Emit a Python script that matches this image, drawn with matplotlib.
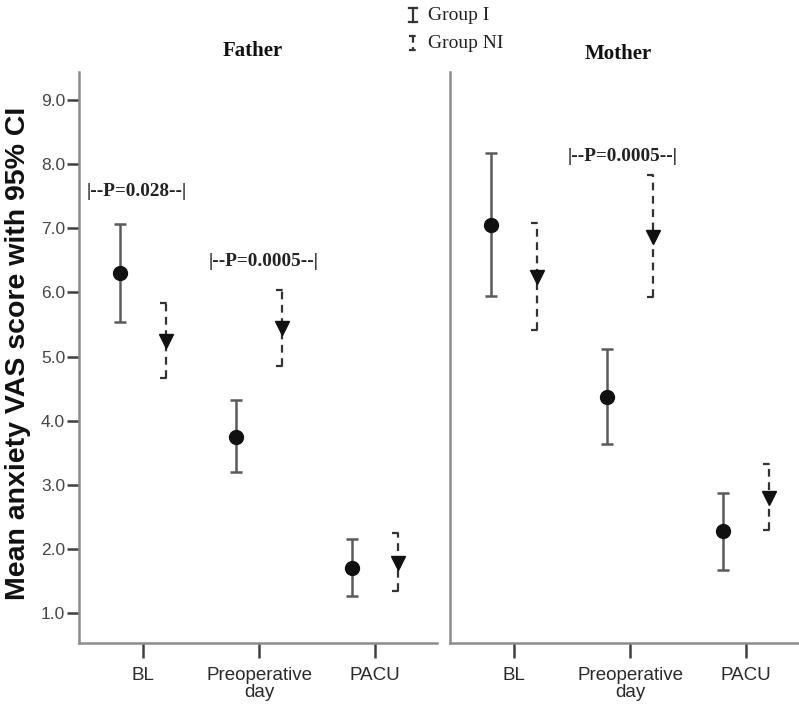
import matplotlib
matplotlib.use("Agg")
import matplotlib.pyplot as plt
from matplotlib.lines import Line2D

# ---------------- data ----------------
categories = ["BL", "Preoperative\nday", "PACU"]
panels = ["Father", "Mother"]
groups = ["Group I", "Group NI"]

father_I_mean = [6.30, 3.75, 1.70]
father_I_low = [5.54, 3.20, 1.27]
father_I_high = [7.07, 4.32, 2.15]
father_NI_mean = [5.24, 5.45, 1.78]
father_NI_low = [4.66, 4.86, 1.34]
father_NI_high = [5.84, 6.04, 2.24]

mother_I_mean = [7.05, 4.37, 2.27]
mother_I_low = [5.95, 3.63, 1.67]
mother_I_high = [8.18, 5.12, 2.87]
mother_NI_mean = [6.24, 6.87, 2.79]
mother_NI_low = [5.42, 5.93, 2.29]
mother_NI_high = [7.08, 7.83, 3.33]

father_p_labels = ["|--P=0.028--|", "|--P=0.0005--|"]
father_p_x = [-0.05, 1.04]
father_p_y = [7.57, 6.48]
mother_p_labels = ["|--P=0.0005--|"]
mother_p_x = [0.94]
mother_p_y = [8.12]

yticks = [1.0, 2.0, 3.0, 4.0, 5.0, 6.0, 7.0, 8.0, 9.0]
ylabel = "Mean anxiety VAS score with 95% CI"

# ---------------- figure ----------------
W, H = 799, 704
fig = plt.figure(figsize=(W / 100, H / 100), dpi=100)

def fx(px):
    return px / W

def fy(py):
    return 1 - py / H

SANS = "Liberation Sans"
SERIF = "Liberation Serif"
AXC = "#8c8c8c"

ax_left_px = [79, 450]
ax_w_px = 358
ax_top_px, ax_bot_px = 72, 643

datasets = [
    (father_I_mean, father_I_low, father_I_high, father_NI_mean, father_NI_low, father_NI_high,
     father_p_labels, father_p_x, father_p_y),
    (mother_I_mean, mother_I_low, mother_I_high, mother_NI_mean, mother_NI_low, mother_NI_high,
     mother_p_labels, mother_p_x, mother_p_y),
]

off = 0.2
capw = 0.05
for k, (name, d) in enumerate(zip(panels, datasets)):
    im, il, ih, nm, nl, nh, pl, px_, py_ = d
    ax = fig.add_axes([fx(ax_left_px[k]), fy(ax_bot_px), ax_w_px / W, (ax_bot_px - ax_top_px) / H])
    ax.set_xlim(-0.552, 2.534)
    ax.set_ylim(0.53, 9.44)
    for s in ["top", "right"]:
        ax.spines[s].set_visible(False)
    for s in ["left", "bottom"]:
        ax.spines[s].set_color(AXC)
        ax.spines[s].set_linewidth(1.8)
    xs = list(range(len(categories)))
    ax.set_xticks(xs)
    ax.set_xticklabels(categories, fontfamily=SANS, fontsize=13.5, color="#2a2a2a", linespacing=1.0)
    ax.tick_params(axis="x", direction="out", length=11, width=1.8, color="#404040", pad=6)
    if k == 0:
        ax.set_yticks(yticks)
        ax.set_yticklabels([f"{v:.1f}" for v in yticks], fontfamily=SANS, fontsize=12.5,
                           color="#454545")
        ax.tick_params(axis="y", direction="out", length=9, width=1.8, color="#404040", pad=1)
    else:
        ax.set_yticks([])

    for i in xs:
        xi = i - off
        ax.vlines(xi, il[i], ih[i], color="#5a5a5a", lw=1.8, zorder=2)
        ax.hlines([il[i], ih[i]], xi - capw, xi + capw, color="#5a5a5a", lw=1.8, zorder=2)
        ax.plot(xi, im[i], "o", color="#111111", ms=10, zorder=3)

        xn = i + off
        ax.vlines(xn, nl[i], nh[i], color="#333333", lw=1.6, linestyles=(0, (3.5, 2.5)), zorder=2)
        ax.hlines([nl[i], nh[i]], xn - capw, xn + capw, color="#333333", lw=1.6,
                  linestyles=(0, (3, 2.5)), zorder=2)
        ax.plot(xn, nm[i], "v", color="#111111", ms=9.5, zorder=3)

    for lab, tx, ty in zip(pl, px_, py_):
        ax.text(tx, ty, lab, ha="center", va="center", fontfamily=SERIF, fontweight="bold",
                fontsize=13.8, color="#222222")

# titles
fig.text(fx(253), fy(51), panels[0], ha="center", va="center", fontfamily=SERIF,
         fontweight="bold", fontsize=15, color="#111111")
fig.text(fx(618), fy(54), panels[1], ha="center", va="center", fontfamily=SERIF,
         fontweight="bold", fontsize=15, color="#111111")

# y label
fig.text(fx(18), fy(353), ylabel, rotation=90, ha="center", va="center", fontfamily=SANS,
         fontweight="bold", fontsize=20.5, color="#111111")

# legend
lx = 413
fig.add_artist(Line2D([fx(lx), fx(lx)], [fy(8), fy(22)], color="#333333", lw=1.6))
fig.add_artist(Line2D([fx(lx - 4), fx(lx + 4)], [fy(8), fy(8)], color="#333333", lw=1.6))
fig.add_artist(Line2D([fx(lx - 4), fx(lx + 4)], [fy(22), fy(22)], color="#333333", lw=1.6))
fig.text(fx(428), fy(16), groups[0], ha="left", va="center", fontfamily=SERIF, fontsize=14,
         color="#222222")
fig.add_artist(Line2D([fx(lx), fx(lx)], [fy(36), fy(50)], color="#333333", lw=1.6,
                      linestyle=(0, (3, 2))))
fig.add_artist(Line2D([fx(lx - 4), fx(lx + 4)], [fy(36), fy(36)], color="#333333", lw=1.6,
                      linestyle=(0, (3, 2))))
fig.add_artist(Line2D([fx(lx - 4), fx(lx + 4)], [fy(50), fy(50)], color="#333333", lw=1.6,
                      linestyle=(0, (3, 2))))
fig.text(fx(428), fy(44), groups[1], ha="left", va="center", fontfamily=SERIF, fontsize=14,
         color="#222222")

fig.savefig("out.png", dpi=100)
